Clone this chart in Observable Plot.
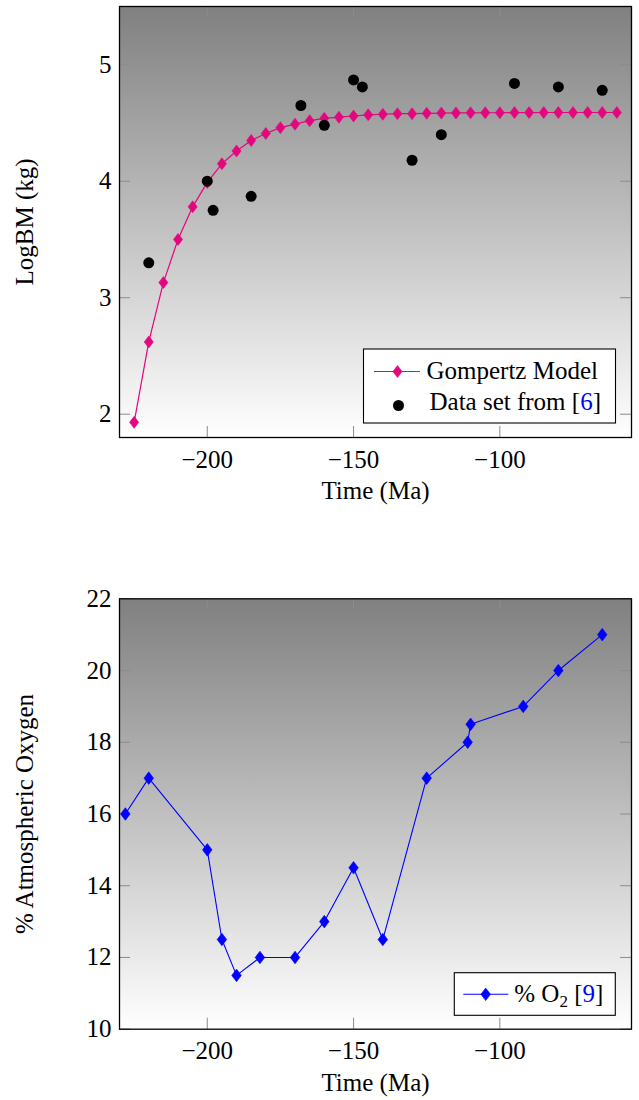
<!DOCTYPE html>
<html>
<head>
<meta charset="utf-8">
<script src="https://cdn.jsdelivr.net/npm/d3@7"></script>
<script src="https://cdn.jsdelivr.net/npm/@observablehq/plot@0.6"></script>
<style>
  body { margin: 0; background: #fff; }
  #chart svg { display: block; }
</style>
</head>
<body>
<div id="chart"></div>
<script>
// ---------- data ----------
const gompertzTime = [-225,-220,-215,-210,-205,-200,-195,-190,-185,-180,-175,-170,-165,-160,-155,-150,-145,-140,-135,-130,-125,-120,-115,-110,-105,-100,-95,-90,-85,-80,-75,-70,-65,-60];
const gompertzLogBM = [1.93,2.62,3.13,3.50,3.78,3.99,4.15,4.26,4.35,4.41,4.46,4.49,4.52,4.54,4.55,4.56,4.57,4.575,4.58,4.58,4.583,4.585,4.586,4.587,4.588,4.588,4.589,4.589,4.59,4.59,4.59,4.59,4.59,4.59];

const dataTime = [-220,-200,-198,-185,-168,-160,-150,-147,-130,-120,-95,-80,-65];
const dataLogBM = [3.30,4.00,3.75,3.87,4.65,4.48,4.87,4.81,4.18,4.40,4.84,4.81,4.78];

const o2Time = [-228,-220,-200,-195,-190,-182,-170,-160,-150,-140,-125,-111,-110,-92,-80,-65];
const o2Percent = [16,17,15,12.5,11.5,12,12,13,14.5,12.5,17,18,18.5,19,20,21];

const xTickValues = [-200,-150,-100];
const logBMTicks = [2,3,4,5];
const o2Ticks = [10,12,14,16,18,20,22];
const xDomain = [-230,-55];
const logBMDomain = [1.8,5.5];
const o2Domain = [10,22];

// ---------- style ----------
const FONT = "'Liberation Serif', 'Times New Roman', serif";
const FS = 25;
const PINK = "#e4067e";
const BLUE = "#0000ff";
const TICK = "#8c8c8c";

const gompertz = gompertzTime.map((t, i) => ({t, v: gompertzLogBM[i]}));
const dataset = dataTime.map((t, i) => ({t, v: dataLogBM[i]}));
const o2 = o2Time.map((t, i) => ({t, v: o2Percent[i]}));

// tall diamond symbol (pgfplots diamond*)
const tallDiamond = {
  draw(ctx, size) {
    const r = Math.sqrt(size / Math.PI);
    const w = r * 0.76;
    ctx.moveTo(0, -r); ctx.lineTo(w, 0); ctx.lineTo(0, r); ctx.lineTo(-w, 0); ctx.closePath();
  }
};
function diamondPath(cx, cy, w, h) {
  return `M${cx},${cy - h}L${cx + w},${cy}L${cx},${cy + h}L${cx - w},${cy}Z`;
}

function gradientDefs(id) {
  return () => {
    const defs = d3.create("svg:defs");
    const lg = defs.append("linearGradient").attr("id", id)
      .attr("x1", 0).attr("y1", 0).attr("x2", 0).attr("y2", 1);
    lg.append("stop").attr("offset", "0%").attr("stop-color", "#808080");
    lg.append("stop").attr("offset", "100%").attr("stop-color", "#ffffff");
    return defs.node();
  };
}

function legendTop() {
  return (index, scales, values, dims) => {
    const g = d3.create("svg:g").attr("font-family", FONT).attr("font-size", FS)
      .attr("fill", "black").attr("text-anchor", "start");
    const right = dims.width - dims.marginRight - 15.5;
    const bottom = dims.height - dims.marginBottom - 14;
    const w = 252, h = 74, x0 = right - w, y0 = bottom - h;
    g.append("rect").attr("x", x0).attr("y", y0).attr("width", w).attr("height", h)
      .attr("fill", "white").attr("stroke", "black").attr("stroke-width", 1.1);
    const r1 = y0 + 22.5;
    g.append("line").attr("x1", x0 + 10.5).attr("x2", x0 + 56.5).attr("y1", r1).attr("y2", r1)
      .attr("stroke", PINK).attr("stroke-width", 1.2);
    g.append("path").attr("d", diamondPath(x0 + 34, r1, 4.6, 6)).attr("fill", PINK)
      .attr("stroke", PINK).attr("stroke-width", 0.6);
    g.append("text").attr("x", x0 + 63).attr("y", y0 + 29.5).text("Gompertz Model");
    const r2 = y0 + 56.5;
    g.append("circle").attr("cx", x0 + 35).attr("cy", r2).attr("r", 5.5).attr("fill", "black");
    const t = g.append("text").attr("x", x0 + 66).attr("y", y0 + 61);
    t.append("tspan").text("Data set from [");
    t.append("tspan").attr("fill", BLUE).text("6");
    t.append("tspan").text("]");
    return g.node();
  };
}

function legendBottom() {
  return (index, scales, values, dims) => {
    const g = d3.create("svg:g").attr("font-family", FONT).attr("font-size", FS)
      .attr("fill", "black").attr("text-anchor", "start");
    const right = dims.width - dims.marginRight - 15.7;
    const bottom = dims.height - dims.marginBottom - 13.4;
    const w = 161, h = 42.6, x0 = right - w, y0 = bottom - h;
    g.append("rect").attr("x", x0).attr("y", y0).attr("width", w).attr("height", h)
      .attr("fill", "white").attr("stroke", "black").attr("stroke-width", 1.1);
    const r1 = y0 + 21.6;
    g.append("line").attr("x1", x0 + 9).attr("x2", x0 + 54).attr("y1", r1).attr("y2", r1)
      .attr("stroke", BLUE).attr("stroke-width", 1.1);
    g.append("path").attr("d", diamondPath(x0 + 31.4, r1, 4.8, 6.3)).attr("fill", BLUE)
      .attr("stroke", BLUE).attr("stroke-width", 0.6);
    const t = g.append("text").attr("x", x0 + 60).attr("y", y0 + 29.5);
    t.append("tspan").text("% O");
    t.append("tspan").attr("font-size", 17).attr("dy", 5).text("2");
    t.append("tspan").attr("dy", -5).text(" [");
    t.append("tspan").attr("fill", BLUE).text("9");
    t.append("tspan").text("]");
    return g.node();
  };
}

function chart({id, height, marginTop, marginBottom, yDomain, yTicks, yLabel, titleDy, marks, legend}) {
  const W = 639, ml = 119, mr = 8;
  const frameH = height - marginTop - marginBottom;
  const frameW = W - ml - mr;
  const tickLen = 11;
  return Plot.plot({
    width: W, height, marginLeft: ml, marginRight: mr, marginTop, marginBottom,
    x: {domain: xDomain},
    y: {domain: yDomain},
    style: {fontFamily: FONT, fontSize: `${FS}px`, background: "white", color: "black", overflow: "visible"},
    marks: [
      gradientDefs(id),
      Plot.frame({fill: `url(#${id})`, stroke: "none"}),
      Plot.ruleX(xTickValues, {x: d => d, insetTop: frameH - tickLen, stroke: TICK, strokeWidth: 1}),
      Plot.ruleX(xTickValues, {x: d => d, insetBottom: frameH - tickLen, stroke: TICK, strokeWidth: 1}),
      Plot.ruleY(yTicks, {y: d => d, insetRight: frameW - tickLen, stroke: TICK, strokeWidth: 1}),
      Plot.ruleY(yTicks, {y: d => d, insetLeft: frameW - tickLen, stroke: TICK, strokeWidth: 1}),
      ...marks,
      Plot.frame({stroke: "black", strokeWidth: 1.3}),
      Plot.axisX({ticks: xTickValues, tickSize: 0, tickPadding: 12.5, fontSize: FS, label: null, tickFormat: d3.format("d")}),
      Plot.axisY({ticks: yTicks, tickSize: 0, tickPadding: 8, fontSize: FS, label: null, tickFormat: d3.format("d")}),
      Plot.text(["Time (Ma)"], {text: d => d, frameAnchor: "bottom", textAnchor: "middle", dy: titleDy, fontSize: FS}),
      Plot.text([yLabel], {text: d => d, frameAnchor: "left", textAnchor: "middle", rotate: -90, dx: -95, fontSize: FS}),
      legend
    ]
  });
}

const topChart = chart({
  id: "bgTop", height: 540, marginTop: 6, marginBottom: 103,
  yDomain: logBMDomain, yTicks: logBMTicks, yLabel: "LogBM (kg)", titleDy: 61,
  marks: [
    Plot.line(gompertz, {x: "t", y: "v", stroke: PINK, strokeWidth: 1.2}),
    Plot.dot(gompertz, {x: "t", y: "v", symbol: tallDiamond, r: 6, fill: PINK, stroke: PINK, strokeWidth: 0.6}),
    Plot.dot(dataset, {x: "t", y: "v", r: 5.5, fill: "black", stroke: "none"})
  ],
  legend: legendTop()
});

const bottomChart = chart({
  id: "bgBot", height: 560, marginTop: 58.3, marginBottom: 71.3,
  yDomain: o2Domain, yTicks: o2Ticks, yLabel: "% Atmospheric Oxygen", titleDy: 62,
  marks: [
    Plot.line(o2, {x: "t", y: "v", stroke: BLUE, strokeWidth: 1.1}),
    Plot.dot(o2, {x: "t", y: "v", symbol: tallDiamond, r: 6.3, fill: BLUE, stroke: BLUE, strokeWidth: 0.6})
  ],
  legend: legendBottom()
});

const container = document.getElementById("chart");
container.appendChild(topChart);
container.appendChild(bottomChart);
</script>
</body>
</html>
